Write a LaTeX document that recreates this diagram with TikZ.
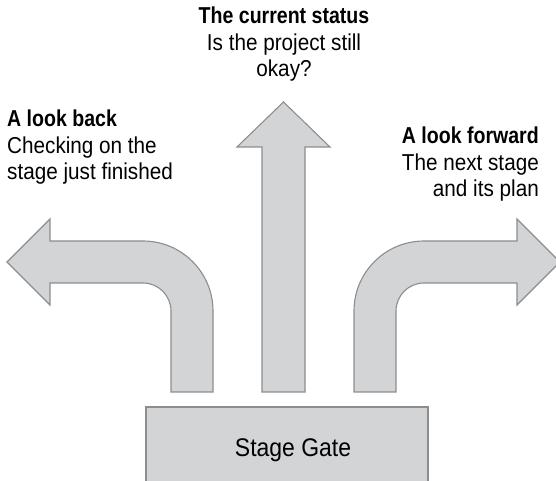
\documentclass[tikz,border=0pt]{standalone}
\usepackage{fontspec}
\setmainfont{Liberation Sans}[FakeStretch=0.9,BoldFeatures={FakeStretch=0.85}]
\begin{document}
\begin{tikzpicture}[x=1pt,y=1pt,
  grayform/.style={fill=arrowfill,draw=arrowline,line width=1.1pt,line join=miter},
  heading/.style={font=\fontsize{23}{26.5}\selectfont,inner sep=0pt,text=black},
  gatelabel/.style={font=\fontsize{25.5}{30}\selectfont,inner sep=0pt,text=black}]
\definecolor{arrowfill}{HTML}{D3D4D6}
\definecolor{arrowline}{HTML}{8C8D8F}
\useasboundingbox (0,0) rectangle (556,481);

% gate box (runs past the lower edge)
\draw[grayform] (146,-20) rectangle (428,74);
\node[gatelabel,anchor=base] (gate) at (293,24) {Stage Gate};

% left bent arrow
\draw[grayform] (171,89) -- (171,170) arc[start angle=0,end angle=90,radius=28]
  -- (50,198) -- (50,176) -- (7,219) -- (50,262) -- (50,240) -- (143,240)
  arc[start angle=90,end angle=0,radius=70] -- (213,89) -- cycle;

% straight arrow
\draw[grayform] (262,89) -- (262,334) -- (237,334) -- (283.5,379) -- (330,334)
  -- (305,334) -- (305,89) -- cycle;

% right bent arrow
\draw[grayform] (396,89) -- (396,170) arc[start angle=180,end angle=90,radius=28]
  -- (517,198) -- (517,176) -- (560,219) -- (517,262) -- (517,240) -- (424,240)
  arc[start angle=90,end angle=180,radius=70] -- (354,89) -- cycle;

% labels
\node[heading,align=center,anchor=north] (status) at (284,474)
  {\textbf{The current status}\\Is the project still\\okay?};
\node[heading,align=left,anchor=north west] (back) at (7,371)
  {\textbf{A look back}\\Checking on the\\stage just finished};
\node[heading,align=right,anchor=north east] (forward) at (539,354)
  {\textbf{A look forward}\\The next stage\\and its plan};
\end{tikzpicture}
\end{document}
